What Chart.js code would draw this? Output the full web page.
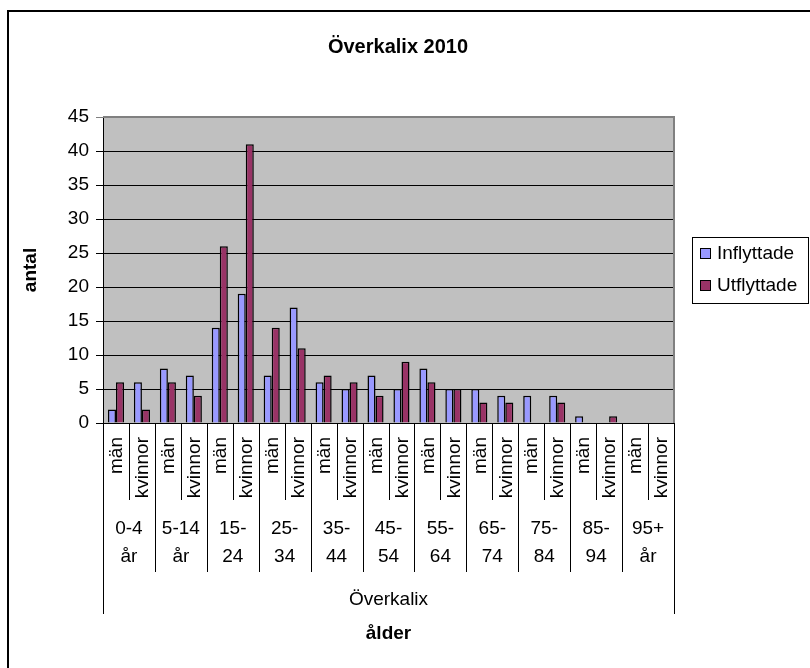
<!DOCTYPE html>
<html>
<head>
<meta charset="utf-8">
<script src="https://cdn.jsdelivr.net/npm/chart.js@4.4.0/dist/chart.umd.min.js"></script>
<style>
  html, body { margin: 0; padding: 0; background: #fff; }
  canvas { display: block; }
</style>
</head>
<body>
<canvas id="chart" width="810" height="668"></canvas>
<script>
// --- data ---
const chartTitle = 'Överkalix 2010';
const yTitle = 'antal';
const xTitle = 'ålder';
const placeName = 'Överkalix';
const ageGroups = [
  ['0-4', 'år'], ['5-14', 'år'], ['15-', '24'], ['25-', '34'], ['35-', '44'], ['45-', '54'],
  ['55-', '64'], ['65-', '74'], ['75-', '84'], ['85-', '94'], ['95+', 'år']
];
const sexes = ['män', 'kvinnor'];
const inflyttade = [2, 6, 8, 7, 14, 19, 7, 17, 6, 5, 7, 5, 8, 5, 5, 4, 4, 4, 1, 0, 0, 0];
const utflyttade = [6, 2, 6, 4, 26, 41, 14, 11, 7, 6, 4, 9, 6, 5, 3, 3, 0, 3, 0, 1, 0, 0];
const yMax = 45;
const yStep = 5;

const FONT = 'Arial, "Liberation Sans", sans-serif';
const labels = [];
ageGroups.forEach(g => sexes.forEach(s => labels.push(g.join(' ') + ' ' + s)));

const series = [
  { label: 'Inflyttade', data: inflyttade, color: '#9999ff' },
  { label: 'Utflyttade', data: utflyttade, color: '#993366' }
];

// --- ramar, axeltexter och förklaring ---
const frame = {
  id: 'frame',
  beforeDraw(chart) {
    const { ctx, chartArea: a } = chart;
    ctx.save();
    ctx.fillStyle = '#fff';
    ctx.fillRect(0, 0, chart.width, chart.height);
    ctx.fillStyle = '#c0c0c0';
    ctx.fillRect(a.left, a.top, a.right - a.left, a.bottom - a.top);
    ctx.restore();
  },
  afterDraw(chart) {
    const { ctx, chartArea: a } = chart;
    const x = chart.scales.x;
    const n = labels.length;
    const edge = i => i === 0 ? a.left : i === n ? a.right
      : (x.getPixelForValue(i - 1) + x.getPixelForValue(i)) / 2;

    ctx.save();
    // grå ram runt ritytan (topp och höger)
    ctx.strokeStyle = '#808080';
    ctx.lineWidth = 2;
    ctx.beginPath();
    ctx.moveTo(a.left, a.top);
    ctx.lineTo(a.right, a.top);
    ctx.lineTo(a.right, a.bottom);
    ctx.stroke();

    // skiljelinjer under x-axeln
    ctx.strokeStyle = '#000';
    ctx.lineWidth = 1;
    for (let i = 0; i <= n; i++) {
      const len = (i === 0 || i === n) ? 614 : (i % 2 ? 500 : 572);
      const px = Math.round(edge(i)) + 0.5;
      ctx.beginPath();
      ctx.moveTo(px, a.bottom);
      ctx.lineTo(px, len);
      ctx.stroke();
    }

    ctx.fillStyle = '#000';
    ctx.font = `19px ${FONT}`;
    // män / kvinnor, roterade
    for (let i = 0; i < n; i++) {
      ctx.save();
      ctx.translate(x.getPixelForValue(i) + 1, a.bottom + 14);
      ctx.rotate(-Math.PI / 2);
      ctx.textAlign = 'right';
      ctx.textBaseline = 'middle';
      ctx.fillText(sexes[i % 2], 0, 0);
      ctx.restore();
    }
    // åldersgrupper
    ctx.textAlign = 'center';
    ctx.textBaseline = 'middle';
    ageGroups.forEach((g, k) => {
      const cx = (edge(2 * k) + edge(2 * k + 2)) / 2;
      ctx.fillText(g[0], cx, 529);
      ctx.fillText(g[1], cx, 557);
    });
    ctx.fillText(placeName, (a.left + a.right) / 2, 600);

    // titlar
    ctx.font = `bold 19px ${FONT}`;
    ctx.fillText(xTitle, (a.left + a.right) / 2, 634);
    ctx.font = `bold 20px ${FONT}`;
    ctx.fillText(chartTitle, 398, 47);
    ctx.font = `bold 19px ${FONT}`;
    ctx.save();
    ctx.translate(31, (a.top + a.bottom) / 2);
    ctx.rotate(-Math.PI / 2);
    ctx.fillText(yTitle, 0, 0);
    ctx.restore();

    // förklaring
    ctx.strokeStyle = '#000';
    ctx.lineWidth = 1;
    ctx.strokeRect(692.5, 237.5, 116, 66);
    ctx.font = `19px ${FONT}`;
    ctx.textAlign = 'left';
    series.forEach((s, k) => {
      const cy = 254 + k * 32;
      ctx.fillStyle = s.color;
      ctx.fillRect(700.5, cy - 5.5, 10, 10);
      ctx.strokeRect(700.5, cy - 5.5, 10, 10);
      ctx.fillStyle = '#000';
      ctx.fillText(s.label, 717, cy);
    });

    // yttre ram
    ctx.lineWidth = 2;
    ctx.strokeRect(8, 11, 830, 700);
    ctx.restore();
  }
};

new Chart(document.getElementById('chart'), {
  type: 'bar',
  data: {
    labels: labels,
    datasets: series.map(s => ({
      label: s.label,
      data: s.data,
      backgroundColor: s.color,
      borderColor: '#000',
      borderWidth: 1.5,
      categoryPercentage: 0.62,
      barPercentage: 1.0
    }))
  },
  options: {
    responsive: false,
    animation: false,
    layout: { padding: { left: 0, top: 117, right: 136, bottom: 245 } },
    plugins: {
      legend: { display: false },
      title: { display: false },
      tooltip: { enabled: false }
    },
    scales: {
      x: { display: false },
      y: {
        min: 0,
        max: yMax,
        ticks: { stepSize: yStep, color: '#000', padding: 7, font: { family: FONT, size: 19 } },
        grid: {
          color: c => c.tick && c.tick.value === yMax ? '#808080' : '#000',
          tickLength: 7,
          lineWidth: 1
        },
        border: { color: '#000', width: 1 },
        afterFit(scale) { scale.width = 103; }
      }
    }
  },
  plugins: [frame]
});
</script>
</body>
</html>
